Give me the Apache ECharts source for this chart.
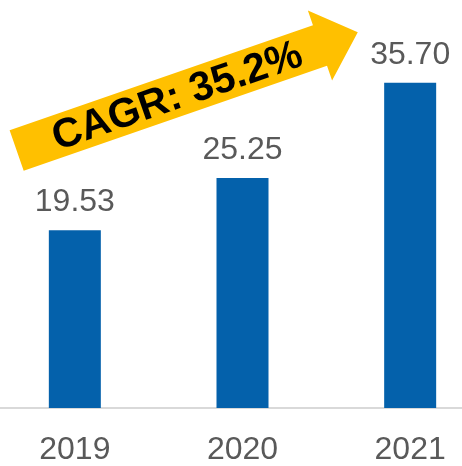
<!DOCTYPE html>
<html>
<head>
<meta charset="utf-8">
<script src="https://cdn.jsdelivr.net/npm/echarts@6/dist/echarts.min.js"></script>
<style>
html,body{margin:0;padding:0;background:#fff;overflow:hidden;width:462px;height:466px;}
#wrap{position:relative;width:462px;height:466px;overflow:hidden;}
#chart{position:absolute;left:-9px;top:0;width:503px;height:466px;}
</style>
</head>
<body>
<div id="wrap"><div id="chart"></div></div>
<script>
var categories = ['2019', '2020', '2021'];
var values = [19.53, 25.25, 35.70];
var valueLabels = ['19.53', '25.25', '35.70'];
var cagrText = 'CAGR: 35.2%';

var chart = echarts.init(document.getElementById('chart'), null, {renderer: 'canvas'});

var ang = 19.1 * Math.PI / 180;
var shaftHalf = 21.5, headBase = 321, headHalf = 37, tipLen = 361;

chart.setOption({
  animation: false,
  backgroundColor: '#ffffff',
  grid: {left: 0, right: 0, top: 43.7, bottom: 54, containLabel: false},
  xAxis: {
    type: 'category',
    data: categories,
    axisLine: {show: true, lineStyle: {color: '#d9d9d9', width: 2}},
    axisTick: {show: false},
    axisLabel: {color: '#595959', fontSize: 32, fontFamily: 'Liberation Sans, Arial, sans-serif', margin: 26}
  },
  yAxis: {
    type: 'value', min: 0, max: 40, show: false, splitLine: {show: false}
  },
  series: [{
    type: 'bar',
    data: values,
    barWidth: 52,
    itemStyle: {color: '#0461AB'},
    label: {
      show: true,
      position: 'top',
      distance: 12,
      color: '#595959',
      fontSize: 32,
      fontFamily: 'Liberation Sans, Arial, sans-serif',
      formatter: function (p) { return valueLabels[p.dataIndex]; }
    }
  }],
  graphic: [{
    type: 'group',
    x: 16.65 + 9,
    y: 150.5,
    rotation: ang,
    children: [{
      type: 'polygon',
      shape: {points: [
        [0, -shaftHalf], [headBase, -shaftHalf], [headBase, -headHalf], [tipLen, 0],
        [headBase, headHalf], [headBase, shaftHalf], [0, shaftHalf]
      ]},
      style: {fill: '#FFC000'}
    }, {
      type: 'text',
      x: 169.5,
      y: 2,
      style: {
        text: cagrText,
        fill: '#000000',
        font: 'bold 41px "Liberation Sans", Arial, sans-serif',
        align: 'center',
        verticalAlign: 'middle'
      }
    }]
  }]
});
</script>
</body>
</html>
